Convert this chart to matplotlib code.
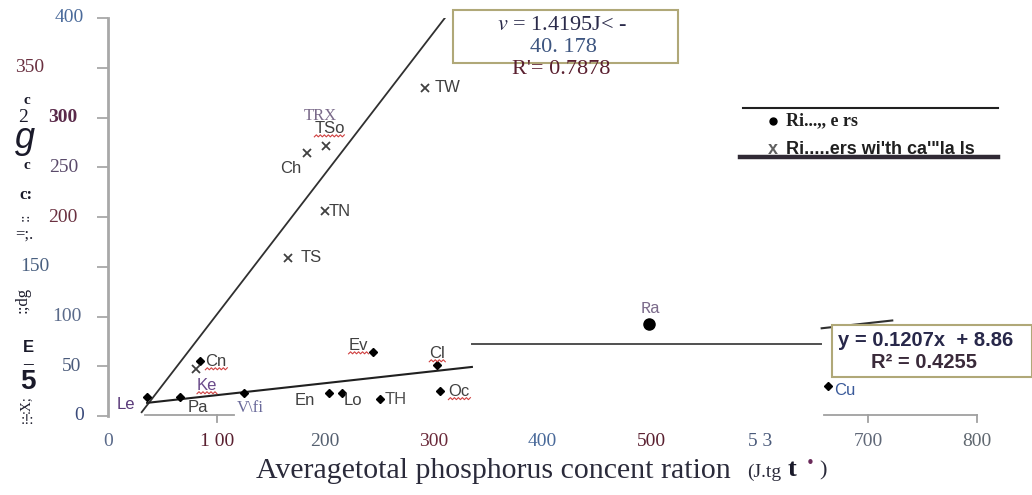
import numpy as np
import matplotlib.pyplot as plt
from matplotlib.lines import Line2D
from matplotlib.patches import Rectangle
from matplotlib.transforms import IdentityTransform, blended_transform_factory

plt.rcParams["mathtext.fontset"] = "stix"

W, H = 1032, 495

# rivers: average total P vs average chlorophyll
river_names = ["Le", "Pa", "Cn", "V\\fi", "En", "Lo", "TH", "Ev", "Cl", "Oc", "Ra", "Cu"]
river_tp = [36, 66, 85, 125, 203, 215, 250, 244, 303, 306, 498, 663]
river_chl = [19, 19, 55, 23, 23, 23, 17, 64, 51, 25, 92, 30]

# rivers with canals
canal_names = ["Ke", "TS", "Ch", "TSo", "TN", "TW"]
canal_tp = [81, 166, 183, 201, 200, 292]
canal_chl = [47, 159, 264, 271, 206, 330]

# fitted trend lines
canal_fit = (1.4195, -40.178, 0.7878)
river_fit = (0.1207, 8.86, 0.4255)

yticks = [0, 50, 100, 150, 200, 250, 300, 350, 400]
xticks = [0, 100, 200, 300, 400, 500, 600, 700, 800]
xtick_text = ["0", "1 00", "200", "300", "400", "500", "5 3", "700", "800"]


def fx(p):
    return p / W


def fy(p):
    return 1 - p / H


fig = plt.figure(figsize=(W / 100, H / 100), dpi=100)
ax = fig.add_axes([fx(108), fy(416), (977 - 108) / W, (416 - 18) / H])
ax.set_xlim(0, 800)
ax.set_ylim(0, 400)
for s in ["top", "right", "bottom"]:
    ax.spines[s].set_visible(False)
ax.spines["left"].set_color("#a8a8a8")
ax.spines["left"].set_linewidth(2)
ax.set_yticks(yticks)
ax.tick_params(axis="y", length=8, width=1.3, color="#a8a8a8", labelleft=False)

# x tick labels
xlab_c = ["#5a6a8a", "#5a2030", "#556070", "#6a2a3a", "#4a6a9a",
          "#5a2030", "#4a5a7a", "#606878", "#606870"]
ax.set_xticks(xticks, labels=xtick_text)
ax.tick_params(axis="x", length=0, pad=12, labelsize=14)
for lab, c in zip(ax.get_xticklabels(), xlab_c):
    lab.set_color(c)
    lab.set_family("Liberation Serif")

# y tick labels, scattered a bit as in the printed figure
ylab_x = [79, 72, 67, 35, 63, 64, 63, 30, 69]
ylab_c = ["#3a4a7a", "#4a5a7a", "#5a6a8a", "#4a6080", "#6a3040",
          "#5a4a6a", "#5a2a4a", "#6a3040", "#4a6a9a"]
bt = blended_transform_factory(fig.transFigure, ax.transData)
for v, px, c in zip(yticks, ylab_x, ylab_c):
    fig.text(fx(px), v, str(v), transform=bt, ha="center", va="center",
             fontsize=14, family="Liberation Serif", color=c,
             weight="bold" if v == 300 else "normal")

# remnants of the x axis line
for x0, x1, tks in [(34, 116, [100]), (659, 800, [700, 800])]:
    ax.plot([x0, x1], [1, 1], color="#a0a0a0", lw=1.3, clip_on=False)
    for t in tks:
        ax.plot([t, t], [1, -6], color="#a0a0a0", lw=1.3, clip_on=False)

# trend lines
a, b, _ = canal_fit
xc = np.array([31, 310])
ax.plot(xc, a * xc + b, color="#303030", lw=1.3)
a, b, _ = river_fit
xr = np.array([36, 335])
ax.plot(xr, a * xr + b, color="#202020", lw=1.5)
xr2 = np.array([657, 722])
ax.plot(xr2, a * xr2 + b, color="#303030", lw=1.5, clip_on=False)
ax.plot([335, 656], [72, 72], color="#505050", lw=1.4)

# markers
rv = [(n, x, y) for n, x, y in zip(river_names, river_tp, river_chl)]
ax.plot([x for n, x, y in rv if n != "Ra"], [y for n, x, y in rv if n != "Ra"],
        "D", color="black", ms=4.5, ls="none")
ax.plot([x for n, x, y in rv if n == "Ra"], [y for n, x, y in rv if n == "Ra"],
        "o", color="black", ms=8, ls="none")
ax.plot(canal_tp, canal_chl, "x", color="#404040", ms=6, mew=1.3, ls="none")

# point labels: offset (pixels), alignment, colour, family
river_lab = {
    "Le": ((-12, 7), "right", "#5a3a7a", "Liberation Sans"),
    "Pa": ((18, 10), "center", "#404040", "Liberation Sans"),
    "Cn": ((5, 0), "left", "#404040", "Liberation Sans"),
    "V\\fi": ((6, 15), "center", "#6a6a9a", "Liberation Serif"),
    "En": ((-14, 7), "right", "#404040", "Liberation Sans"),
    "Lo": ((2, 7), "left", "#404040", "Liberation Sans"),
    "TH": ((5, 0), "left", "#505050", "Liberation Sans"),
    "Ev": ((-5, -7), "right", "#404040", "Liberation Sans"),
    "Cl": ((0, -12), "center", "#404040", "Liberation Sans"),
    "Oc": ((8, 0), "left", "#404040", "Liberation Sans"),
    "Ra": ((2, -16), "center", "#7a6a8a", "Liberation Mono"),
    "Cu": ((6, 4), "left", "#3a5a9a", "Liberation Sans"),
}
canal_lab = {
    "Ke": ((1, 16), "left", "#6a4a8a"),
    "TS": ((12, 0), "left", "#404040"),
    "Ch": ((-16, 15), "center", "#404040"),
    "TSo": ((-12, -18), "left", "#404040"),
    "TN": ((3, 0), "left", "#404040"),
    "TW": ((9, 0), "left", "#404040"),
}
wavy = {"Cn", "Ke", "TSo", "Ev", "Cl", "Oc"}
texts = []
for n, x, y in rv:
    (dx, dy), ha, c, fam = river_lab[n]
    t = ax.annotate(n, (x, y), xytext=(dx * 0.72, -dy * 0.72),
                    textcoords="offset points", ha=ha, va="center",
                    fontsize=12, color=c, family=fam)
    texts.append((n, t))
for n, x, y in zip(canal_names, canal_tp, canal_chl):
    (dx, dy), ha, c = canal_lab[n]
    t = ax.annotate(n, (x, y), xytext=(dx * 0.72, -dy * 0.72),
                    textcoords="offset points", ha=ha, va="center",
                    fontsize=12, color=c, family="Liberation Sans")
    texts.append((n, t))
fig.text(fx(320), fy(116), "TRX", ha="center", va="center", fontsize=12,
         family="Liberation Serif", color="#7a6a8a")

# equation boxes
fig.add_artist(Rectangle((fx(453), fy(63)), (678 - 453) / W, 53 / H,
                         transform=fig.transFigure, fc="white",
                         ec="#b0a878", lw=1.5))
fig.text(fx(562), fy(25), "$\\mathit{v}$ = 1.4195J< -", ha="center",
         va="center", fontsize=16, family="Liberation Serif", color="#2a2a4a")
fig.text(fx(563), fy(48), "40. 178", ha="center", va="center",
         fontsize=16, family="Liberation Serif", color="#3d5580")
fig.text(fx(561), fy(70), "R'= %.4f" % canal_fit[2],
         ha="center", va="center", fontsize=16, family="Liberation Serif",
         color="#5a2030")

fig.add_artist(Rectangle((fx(832), fy(377)), (1032 - 832) / W, 52 / H,
                         transform=fig.transFigure, fc="white",
                         ec="#b0a878", lw=1.5))
fig.text(fx(838), fy(340), "y = %.4fx  + %.2f" % river_fit[:2], ha="left",
         va="center", fontsize=14.5, weight="bold", family="Liberation Sans",
         color="#28284a")
fig.text(fx(871), fy(362), "R² = %.4f" % river_fit[2], ha="left",
         va="center", fontsize=14.5, weight="bold", family="Liberation Sans",
         color="#3a2a3a")

# legend
fig.add_artist(Line2D([fx(743), fx(998)], [fy(108), fy(108)],
                      transform=fig.transFigure, color="#202020", lw=1.5))
fig.add_artist(Line2D([fx(773)], [fy(121)], transform=fig.transFigure,
                      marker="o", color="black", ms=5, ls="none"))
fig.text(fx(786), fy(121), "Ri...,, e rs", ha="left", va="center",
         fontsize=13, weight="bold", family="Liberation Serif",
         color="#202020")
fig.text(fx(773), fy(150), "x", ha="center", va="center", fontsize=13,
         weight="bold", family="Liberation Sans", color="#606060")
fig.text(fx(786), fy(150), "Ri.....ers wi'th ca'\"la ls", ha="left",
         va="center", fontsize=13, weight="bold", family="Liberation Sans",
         color="#202020")
fig.add_artist(Line2D([fx(740), fx(998)], [fy(157), fy(157)],
                      transform=fig.transFigure, color="#302a35", lw=3.2))

# axis titles
xl = fig.text(fx(256), fy(471), "Averagetotal phosphorus concent ration",
              ha="left", va="center", fontsize=21.5, family="Liberation Serif",
              color="#2a2a3a")
ylab_bits = [
    ("c", 27, 101, 11, "bold", 0), ("2", 23, 117, 14, "normal", 0),
    ("g", 25, 138, 26, "normal", 0), ("c", 27, 166, 11, "bold", 0),
    ("c:", 26, 195, 12, "bold", 0), ("::", 25, 217, 11, "normal", 90),
    ("=;.", 24, 235, 12, "normal", 0), (":;dg", 23, 300, 12, "normal", 90),
    ("E", 28, 348, 12, "bold", 0), ("–", 28, 365, 14, "bold", 0),
    ("5", 28, 382, 20, "bold", 0), (":X;", 26, 404, 10, "normal", 90),
    (":!:", 27, 421, 11, "normal", 0),
]
for s, px, py, fs, w, r in ylab_bits:
    fig.text(fx(px), fy(py), s, ha="center", va="center", fontsize=fs,
             weight=w, rotation=r, color="#1a1a2a",
             family="Liberation Sans" if s in ("E", "5", "g") else "Liberation Serif",
             style="italic" if s == "g" else "normal")

fig.canvas.draw()
renderer = fig.canvas.get_renderer()
bb = xl.get_window_extent(renderer)
tail = fig.text(bb.x1 / W + 0.016, fy(472), "(J.tg", ha="left", va="center",
                fontsize=14, family="Liberation Serif", color="#2a2a3a")
fig.canvas.draw()
bb = tail.get_window_extent(renderer)
fig.text(bb.x1 / W + 0.006, fy(470), "t", ha="left", va="center",
         fontsize=19, weight="bold", family="Liberation Serif", color="#1a1a2a")
fig.text(bb.x1 / W + 0.024, fy(463), "•", ha="left", va="center",
         fontsize=11, color="#6a2a5a")
fig.text(bb.x1 / W + 0.037, fy(471), ")", ha="left", va="center",
         fontsize=16, family="Liberation Serif", color="#2a2a3a")

# spell-check squiggles under some labels
for n, t in texts:
    if n in wavy:
        e = t.get_window_extent(renderer)
        xs = np.arange(e.x0, e.x1 + 1, 2.0)
        ys = e.y0 + np.where(np.arange(len(xs)) % 2, 1.0, -1.0)
        fig.add_artist(Line2D(xs, ys, transform=IdentityTransform(),
                              color="#d04040", lw=0.8))

fig.savefig("out.png", dpi=100)
